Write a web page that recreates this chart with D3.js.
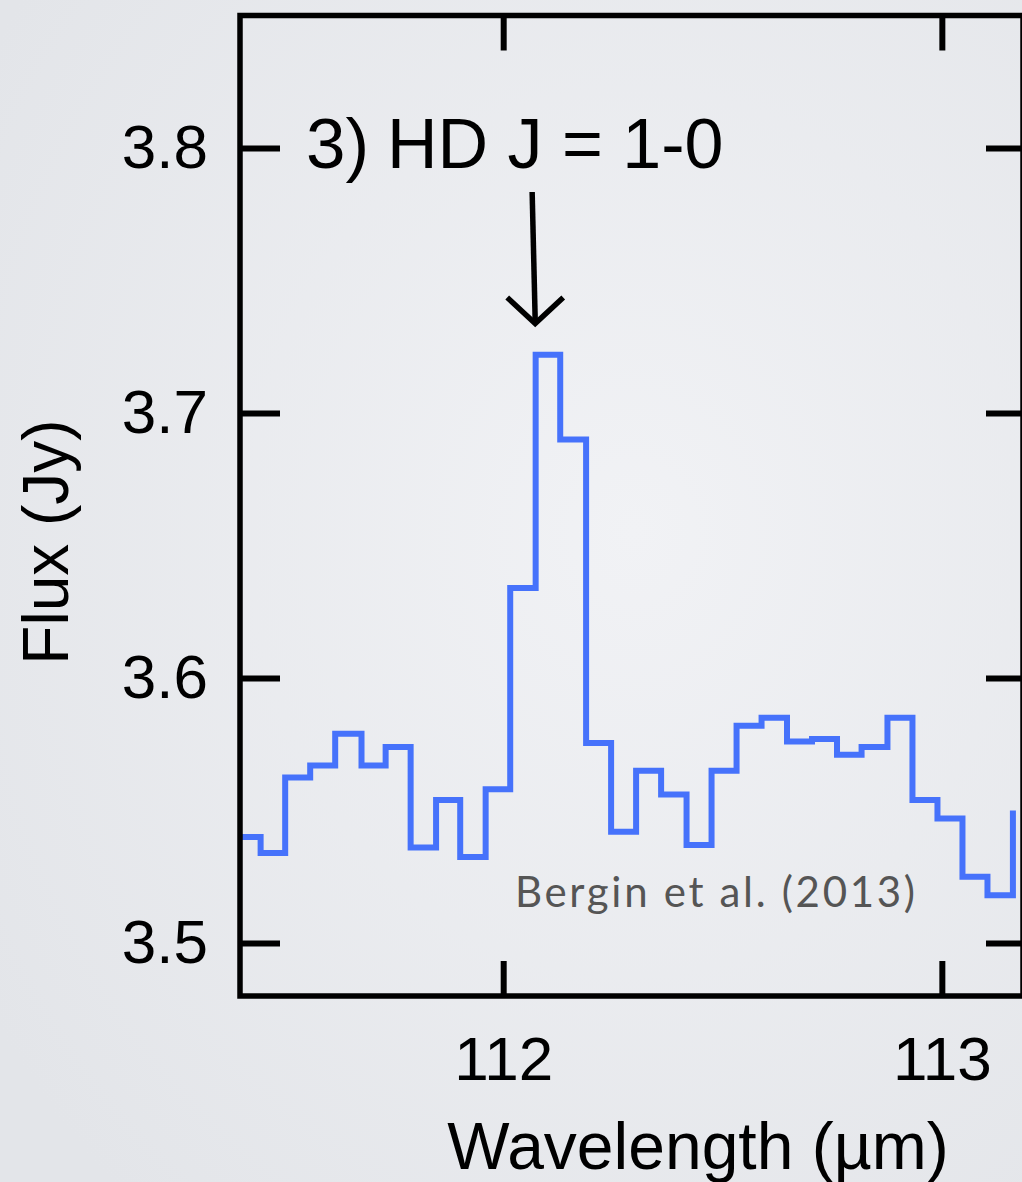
<html>
<head>
<meta charset="utf-8">
<title>HD J=1-0</title>
<script src="https://cdnjs.cloudflare.com/ajax/libs/d3/7.8.5/d3.min.js"></script>
<style>
  body { margin:0; padding:0; overflow:hidden; background:#eceef1; }
  svg text { font-family: "Liberation Sans", Arial, Helvetica, sans-serif; }
</style>
</head>
<body>
<svg id="chart" width="1022" height="1182"></svg>
<script>

// bin left edges (micron) and flux (Jy)
var binEdge = [111.390, 111.447, 111.503, 111.560, 111.617, 111.677, 111.732, 111.789,
               111.847, 111.902, 111.960, 112.016, 112.074, 112.130, 112.189, 112.246,
               112.303, 112.360, 112.418, 112.475, 112.532, 112.589, 112.647, 112.704,
               112.761, 112.817, 112.876, 112.933, 112.990, 113.047, 113.104, 113.162];
var flux = [3.540, 3.534, 3.5625, 3.567, 3.579, 3.567, 3.574, 3.536,
            3.554, 3.5325, 3.558, 3.634, 3.722, 3.690, 3.5755, 3.542,
            3.565, 3.556, 3.537, 3.565, 3.582, 3.585, 3.576, 3.577,
            3.571, 3.574, 3.585, 3.554, 3.547, 3.525, 3.518, 3.550];

var xTicks = [112, 113];
var yTicks = [3.5, 3.6, 3.7, 3.8];
var xDomain = [111.40, 113.185];
var yDomain = [3.48, 3.85];

// arrow marking the line (wavelength, flux)
var arrowTop = [112.066, 3.7834];
var arrowTip = [112.073, 3.7338];

var svg = d3.select('#chart');
var W = 1022, H = 1182;
// plot box (don't call these top/left: window.top is read-only)
var pL = 240, pR = 1023, pT = 15.5, pB = 996;

var defs = svg.append('defs');
var grad = defs.append('radialGradient').attr('id', 'bg')
  .attr('cx', '62%').attr('cy', '45%').attr('r', '75%');
grad.append('stop').attr('offset', '0%').attr('stop-color', '#f1f2f5');
grad.append('stop').attr('offset', '100%').attr('stop-color', '#e3e5e9');
defs.append('clipPath').attr('id', 'plotclip')
  .append('rect').attr('x', pL).attr('y', pT).attr('width', pR - pL).attr('height', pB - pT);

svg.append('rect').attr('width', W).attr('height', H).attr('fill', 'url(#bg)');

var x = d3.scaleLinear().domain(xDomain).range([pL, pR]);
var y = d3.scaleLinear().domain(yDomain).range([pB, pT]);

// spectrum
var pts = binEdge.map(function(d, i) { return [d, flux[i]]; });
var line = d3.line()
  .x(function(d) { return x(d[0]); })
  .y(function(d) { return y(d[1]); })
  .curve(d3.curveStepAfter);

svg.append('path')
  .attr('clip-path', 'url(#plotclip)')
  .attr('d', line(pts))
  .attr('fill', 'none')
  .attr('stroke', '#4672fb')
  .attr('stroke-width', 6)
  .attr('stroke-linejoin', 'miter')
  .attr('stroke-linecap', 'butt');

// axes, ticks pointing inward
function styleAxis(g) {
  g.select('.domain').remove();
  g.selectAll('.tick line').attr('stroke', '#000').attr('stroke-width', 6);
  g.selectAll('.tick text').attr('fill', '#000').attr('font-size', 62)
    .attr('font-family', '"Liberation Sans", Arial, sans-serif');
}

svg.append('g').attr('transform', 'translate(' + pL + ',0)')
  .call(d3.axisLeft(y).tickValues(yTicks).tickFormat(d3.format('.1f'))
        .tickSizeInner(-40).tickSizeOuter(0).tickPadding(32))
  .call(styleAxis);

svg.append('g').attr('transform', 'translate(' + pR + ',0)')
  .call(d3.axisRight(y).tickValues(yTicks).tickFormat('').tickSizeInner(-37).tickSizeOuter(0))
  .call(styleAxis);

svg.append('g').attr('transform', 'translate(0,' + pB + ')')
  .call(d3.axisBottom(x).tickValues(xTicks).tickFormat(d3.format('d'))
        .tickSizeInner(-35).tickSizeOuter(0).tickPadding(40))
  .call(styleAxis);

svg.append('g').attr('transform', 'translate(0,' + pT + ')')
  .call(d3.axisTop(x).tickValues(xTicks).tickFormat('').tickSizeInner(-35).tickSizeOuter(0))
  .call(styleAxis);

// frame
svg.append('rect')
  .attr('x', pL).attr('y', pT)
  .attr('width', pR - pL).attr('height', pB - pT)
  .attr('fill', 'none').attr('stroke', '#000').attr('stroke-width', 5.5);

// axis titles
svg.append('text')
  .attr('x', 698).attr('y', 1169)
  .attr('text-anchor', 'middle')
  .attr('font-size', 66)
  .text('Wavelength (\u00b5m)');

svg.append('text')
  .attr('transform', 'translate(68,542) rotate(-90)')
  .attr('text-anchor', 'middle')
  .attr('font-size', 64)
  .text('Flux (Jy)');

// annotation
svg.append('text').attr('x', 306).attr('y', 168).attr('font-size', 71).text('3)');
svg.append('text').attr('x', 387).attr('y', 168).attr('font-size', 70).text('HD J = 1-0');

svg.append('line')
  .attr('x1', x(arrowTop[0])).attr('y1', y(arrowTop[1]))
  .attr('x2', x(arrowTip[0])).attr('y2', y(arrowTip[1]) - 2)
  .attr('stroke', '#000').attr('stroke-width', 5.5);
svg.append('path')
  .attr('d', 'M' + (x(arrowTip[0]) - 28) + ',' + (y(arrowTip[1]) - 26) +
             'L' + x(arrowTip[0]) + ',' + y(arrowTip[1]) +
             'L' + (x(arrowTip[0]) + 28) + ',' + (y(arrowTip[1]) - 26))
  .attr('fill', 'none').attr('stroke', '#000').attr('stroke-width', 5.5);

// citation
svg.append('text')
  .attr('x', 515).attr('y', 907)
  .attr('font-size', 42)
  .attr('fill', '#555')
  .attr('textLength', 400)
  .attr('lengthAdjust', 'spacing')
  .style('font-family', 'Lato, "Open Sans", sans-serif')
  .text('Bergin et al. (2013)');

</script>
</body>
</html>
